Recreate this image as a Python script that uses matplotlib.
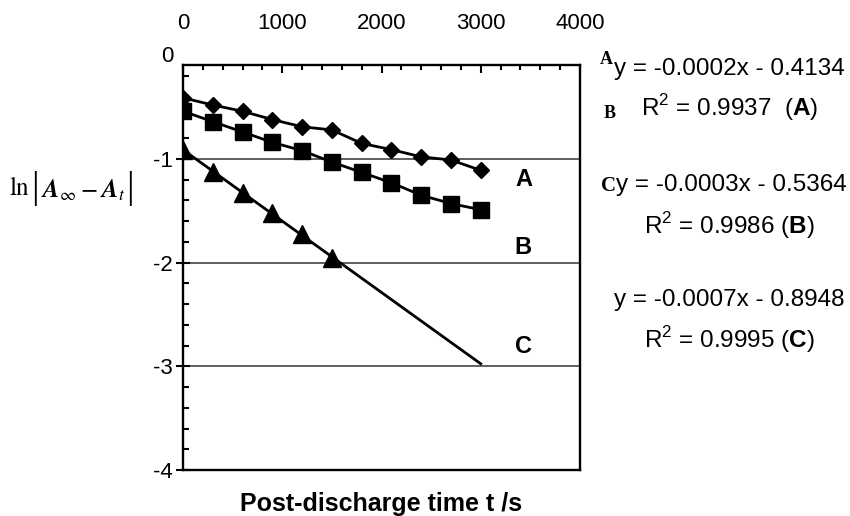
import numpy as np
import matplotlib
matplotlib.use('Agg')
import matplotlib.pyplot as plt
from matplotlib.ticker import MultipleLocator

plt.rcParams['font.family'] = ['Liberation Sans', 'DejaVu Sans']
plt.rcParams['axes.unicode_minus'] = False
plt.rcParams['mathtext.fontset'] = 'custom'
plt.rcParams['mathtext.rm'] = 'Liberation Sans'
plt.rcParams['mathtext.bf'] = 'Liberation Sans:bold'

# data
t_ab = [0, 300, 600, 900, 1200, 1500, 1800, 2100, 2400, 2700, 3000]
ln_a = [-0.41, -0.48, -0.54, -0.62, -0.69, -0.72, -0.85, -0.91, -0.98, -1.01, -1.11]
ln_b = [-0.54, -0.64, -0.74, -0.84, -0.92, -1.03, -1.13, -1.23, -1.35, -1.43, -1.49]
t_c = [0, 300, 600, 900, 1200, 1500]
ln_c = [-0.91, -1.125, -1.33, -1.52, -1.72, -1.96]
t_fit_end = 3000

equations = ['y = -0.0002x - 0.4134', r'R$^2$ = 0.9937  ($\mathbf{A}$)',
             'y = -0.0003x - 0.5364', r'R$^2$ = 0.9986 ($\mathbf{B}$)',
             'y = -0.0007x - 0.8948', r'R$^2$ = 0.9995 ($\mathbf{C}$)']

W, H = 850, 516
fig = plt.figure(figsize=(8.5, 5.16), dpi=100, facecolor='white')
ax = fig.add_axes([183 / W, 1 - 470 / H, (580 - 183) / W, (470 - 65) / H])

lw = 2.0
ax.plot(t_ab, ln_a, 'k-', marker='D', markersize=8.5, linewidth=lw, zorder=3)
ax.plot(t_ab, ln_b, 'k-', marker='s', markersize=11, linewidth=lw, zorder=3)
# C: points plus extended linear trend line
k, b0 = np.polyfit(t_c, ln_c, 1)
tt = np.array([0, t_fit_end])
ax.plot(tt, k * tt + b0, 'k-', linewidth=lw, zorder=3)
ax.plot(t_c, ln_c, 'k^', markersize=12.5, linestyle='none', zorder=4)

ax.set_xlim(0, 4000)
ax.set_ylim(-4, -0.094)

# top axis
ax.xaxis.tick_top()
ax.xaxis.set_major_locator(MultipleLocator(1000))
ax.xaxis.set_minor_locator(MultipleLocator(200))
ax.tick_params(axis='x', which='major', direction='in', length=5.5, width=1.5,
               labelsize=16, pad=22)
ax.tick_params(axis='x', which='minor', direction='in', length=3.5, width=1.5)

ax.yaxis.set_major_locator(MultipleLocator(1))
ax.yaxis.set_minor_locator(MultipleLocator(0.2))
ax.tick_params(axis='y', which='major', direction='inout', length=9.5, width=1.5,
               labelsize=16, pad=2.5)
ax.tick_params(axis='y', which='minor', direction='in', length=4.3, width=1.5)
ax.yaxis.grid(True, which='major', color='#444444', linewidth=1.2)
ax.set_axisbelow(True)
for s in ax.spines.values():
    s.set_linewidth(1.7)

# the "0" label sits above the plot frame
fig.text(173 / W, 1 - 57 / H, '0', ha='right', va='center', fontsize=16)

ax.xaxis.set_label_position('bottom')
ax.set_xlabel('Post-discharge time t /s', fontsize=18, fontweight='bold', labelpad=16)

# y label  ln|A_inf - A_t|  built from pieces so the bars can be tall
ylab_y = 1 - 188 / H
fig.text(20 / W, ylab_y, r'$\ln$', fontsize=18, ha='center', va='center',
         math_fontfamily='stix')
fig.text(35 / W, ylab_y, '|', fontsize=27, ha='center', va='center',
         family=['Liberation Serif'])
fig.text(83 / W, ylab_y - 0.004, r'$\mathbfit{A}_{\infty}-\mathbfit{A}_{t}$',
         fontsize=18, ha='center', va='center', math_fontfamily='stix')
fig.text(130 / W, ylab_y, '|', fontsize=27, ha='center', va='center',
         family=['Liberation Serif'])

# curve labels inside the plot
for lab, yy in zip(['A', 'B', 'C'], [-1.20, -1.85, -2.81]):
    ax.text(3430, yy, lab, fontsize=17, fontweight='bold', ha='center', va='center')

# regression equations at right
eq_y = [69, 108, 185, 226, 300, 340]
eq_x = [729, 730, 731, 729, 729, 729]
for txt, xx, yy in zip(equations, eq_x, eq_y):
    fig.text(xx / W, 1 - yy / H, txt, fontsize=17.5, ha='center', va='center')

serif = ['Liberation Serif', 'DejaVu Serif']
fig.text(606 / W, 1 - 60 / H, 'A', family=serif, fontweight='bold', fontsize=13,
         ha='center', va='center')
fig.text(610 / W, 1 - 114 / H, 'B', family=serif, fontweight='bold', fontsize=13,
         ha='center', va='center')
fig.text(609 / W, 1 - 186 / H, 'C', family=serif, fontweight='bold', fontsize=15,
         ha='center', va='center')

fig.savefig('out.png', dpi=100)
